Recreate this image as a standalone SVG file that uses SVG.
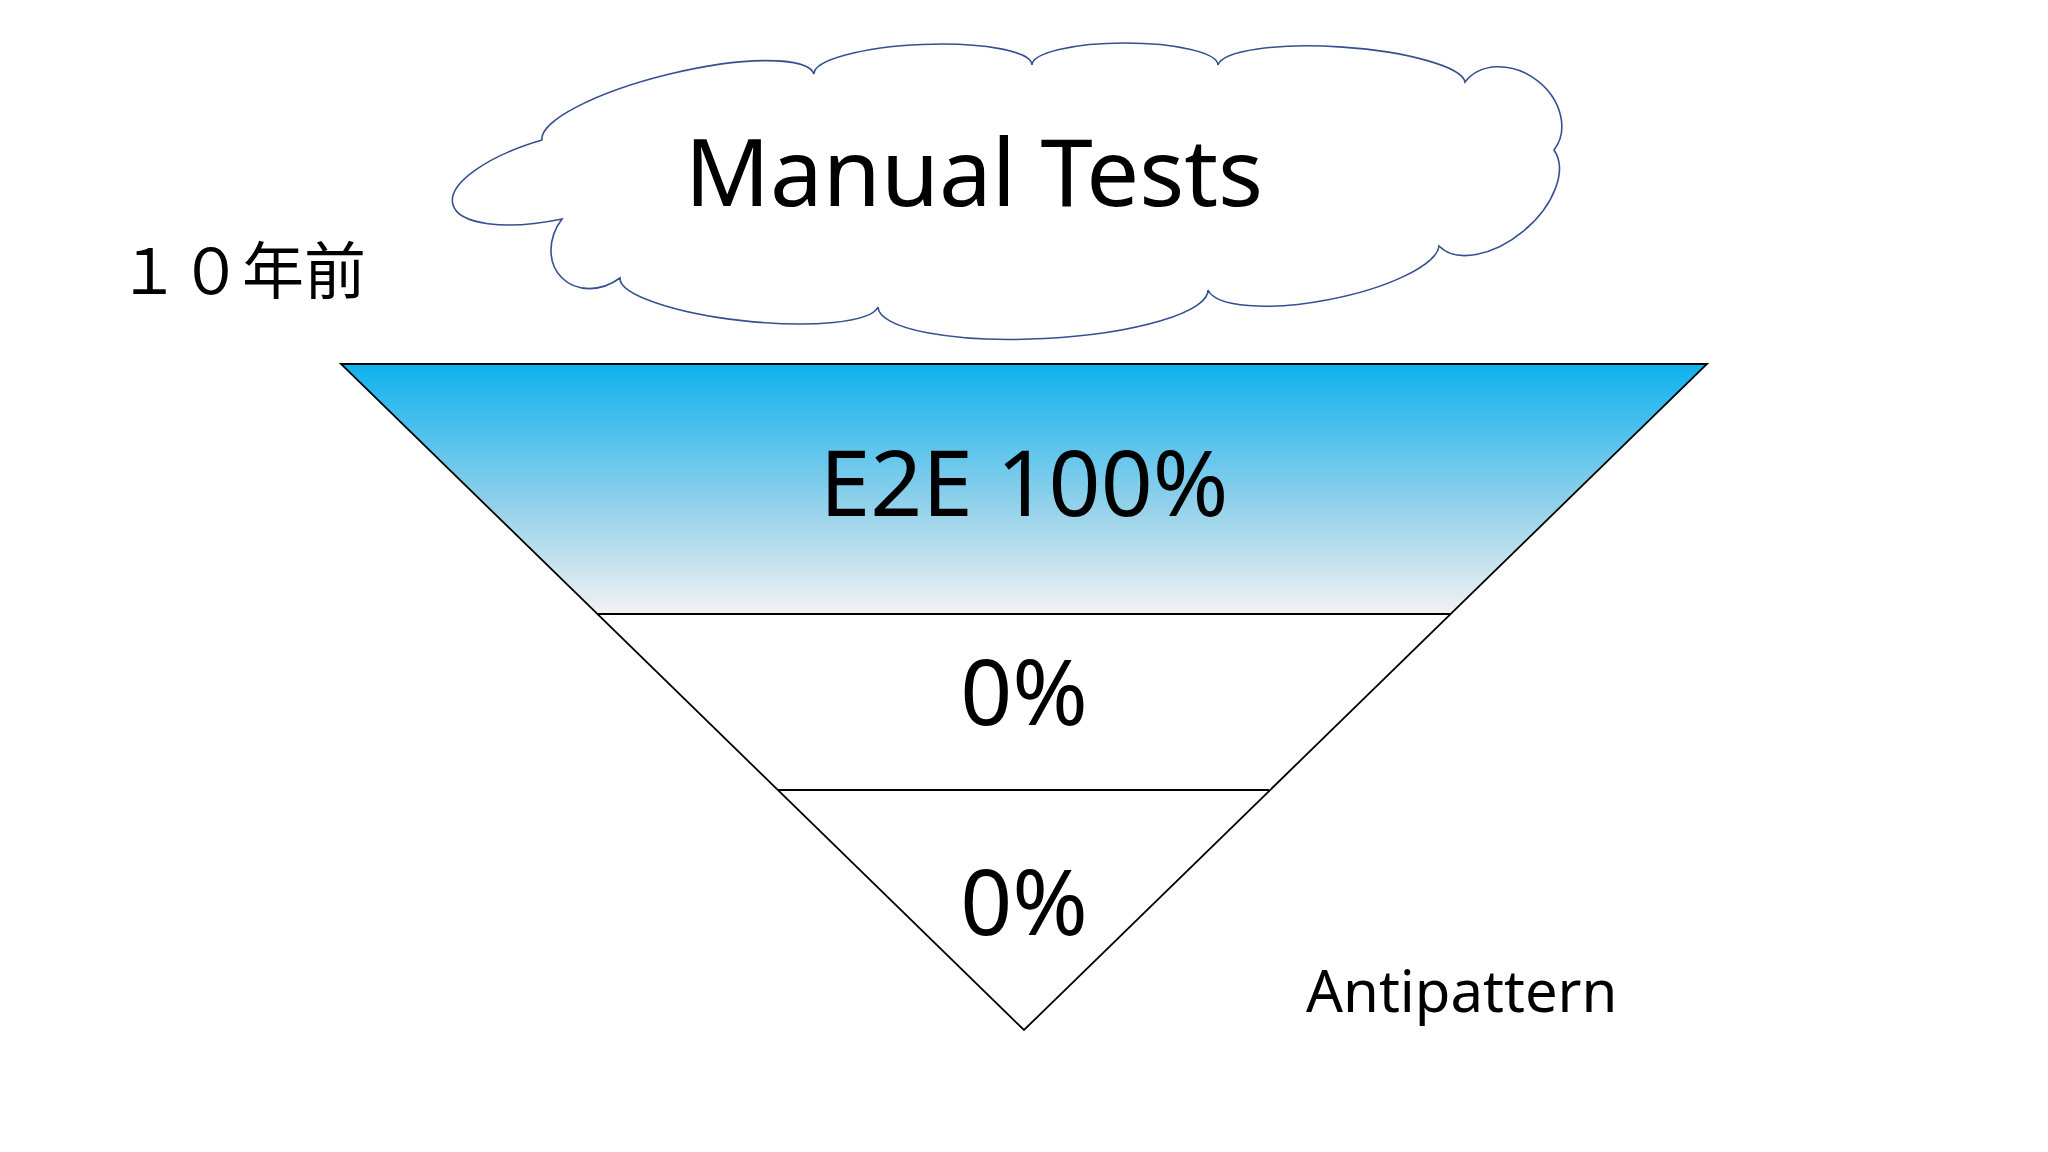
<svg xmlns="http://www.w3.org/2000/svg" width="2048" height="1152" viewBox="0 0 2048 1152">
<defs>
<linearGradient id="g" x1="0" y1="0" x2="0" y2="1">
<stop offset="0" stop-color="#0fb2ef"/>
<stop offset="0.55" stop-color="#8fd0ea"/>
<stop offset="1" stop-color="#f2f2f2"/>
</linearGradient>
<style>
.t{font-family:"Noto Sans","Liberation Sans",sans-serif;fill:#000}
.ln{stroke:#000;stroke-width:1.8;fill:none}
</style>
</defs>
<rect width="2048" height="1152" fill="#fff"/>
<g id="cloud">
<path d="M542,140 A140,35 -13.6 0 1 814,74 A109,25 -2.4 0 1 1032,65 A93,22 0 0 1 1218,65 A124,28 4 0 1 1465,82 A56,45 37 0 1 1554,150 A75,45 140 0 1 1439,246 A118,35 169 0 1 1208,290 A165,40 177 0 1 878,307 A130,30 186 0 1 620,278 A42,50 225 0 1 562,219 A41,115 256 0 1 542,140 Z" fill="#fff" stroke="#34508f" stroke-width="1.6"/>
<text class="t" x="974" y="206" font-size="94" text-anchor="middle">Manual Tests</text>
</g>
<g id="label-year"><text x="118" y="294" font-size="62" font-family="Noto Sans CJK JP,sans-serif">１０年前</text></g>
<g id="top">
<polygon points="341,364 1707,364 1451,614 597,614" fill="url(#g)"/>
<text class="t" x="1024" y="516" font-size="91" text-anchor="middle">E2E 100%</text>
</g>
<g id="mid"><text class="t" x="1024" y="725" font-size="91" text-anchor="middle">0%</text></g>
<g id="bottom"><text class="t" x="1024" y="935" font-size="91" text-anchor="middle">0%</text></g>
<g id="connectors">
<polygon class="ln" points="341,364 1707,364 1024,1030"/>
<line class="ln" x1="597" y1="614" x2="1451" y2="614"/>
<line class="ln" x1="778" y1="790" x2="1269" y2="790"/>
</g>
<g id="label-anti"><text class="t" x="1306" y="1012" font-size="58">Antipattern</text></g>
</svg>
